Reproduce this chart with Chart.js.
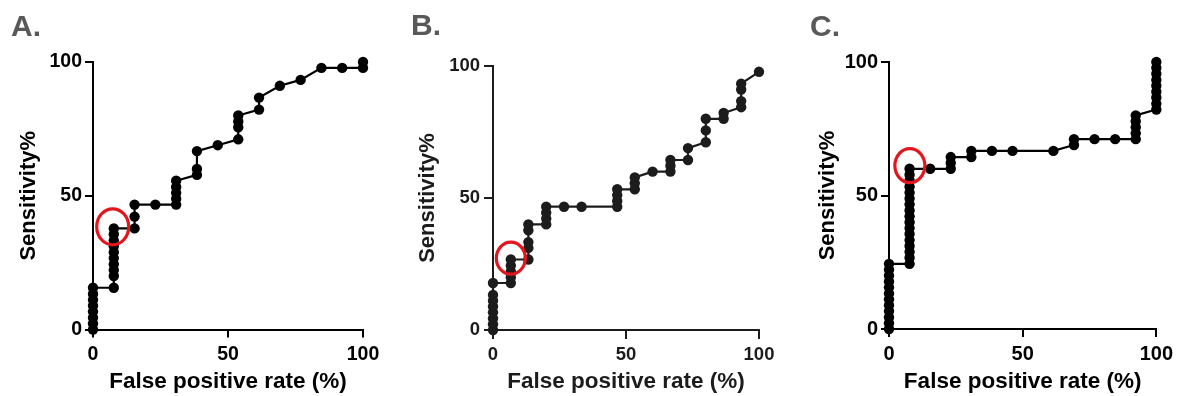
<!DOCTYPE html>
<html>
<head>
<meta charset="utf-8">
<script src="https://cdn.jsdelivr.net/npm/chart.js@4.4.1/dist/chart.umd.min.js"></script>
<style>
  body { margin: 0; background: #fff; width: 1178px; height: 396px; position: relative; overflow: hidden; font-family: "Liberation Sans", Arial, sans-serif; }
  canvas { position: absolute; top: 0; }
  .tag { position: absolute; font-weight: bold; font-size: 30px; line-height: 1; color: #595959; }
</style>
</head>
<body>
<canvas id="chartA" width="390" height="396" style="left:0"></canvas>
<canvas id="chartB" width="400" height="396" style="left:390px"></canvas>
<canvas id="chartC" width="388" height="396" style="left:790px"></canvas>
<div class="tag" style="left:11px;top:11px">A.</div>
<div class="tag" style="left:411px;top:10px">B.</div>
<div class="tag" style="left:810px;top:11px">C.</div>

<script>
// panel A: false positive rate vs sensitivity (%)
const fprA = [0, 0, 0, 0, 0, 0, 0, 0,
  7.7, 7.7, 7.7, 7.7, 7.7, 7.7, 7.7, 7.7, 7.7, 7.7,
  15.4, 15.4, 15.4, 23.1,
  30.8, 30.8, 30.8, 30.8, 30.8,
  38.5, 38.5, 38.5, 46.2,
  53.8, 53.8, 53.8, 53.8,
  61.5, 61.5, 69.2, 76.9, 84.6, 92.3, 100, 100];
const sensA = [0, 2.2, 4.4, 6.7, 8.9, 11.1, 13.3, 15.6,
  15.6, 20.0, 22.2, 24.4, 26.7, 28.9, 31.1, 33.3, 35.6, 37.8,
  37.8, 42.2, 46.7, 46.7,
  46.7, 48.9, 51.1, 53.3, 55.6,
  57.8, 60.0, 66.7, 68.9,
  71.1, 75.6, 77.8, 80.0,
  82.2, 86.7, 91.1, 93.3, 97.8, 97.8, 97.8, 100];

// panel B
const fprB = [0, 0, 0, 0, 0, 0, 0, 0,
  6.7, 6.7, 6.7, 6.7, 6.7,
  13.3, 13.3, 13.3, 13.3, 13.3,
  20, 20, 20, 20, 26.7, 33.3,
  46.7, 46.7, 46.7, 46.7,
  53.3, 53.3, 53.3, 60,
  66.7, 66.7, 66.7, 73.3, 73.3,
  80, 80, 80, 86.7, 86.7,
  93.3, 93.3, 93.3, 93.3, 100];
const sensB = [0, 2.2, 4.4, 6.7, 8.9, 11.1, 13.3, 17.8,
  17.8, 20.0, 22.2, 24.4, 26.7,
  26.7, 31.1, 33.3, 37.8, 40.0,
  40.0, 42.2, 44.4, 46.7, 46.7, 46.7,
  46.7, 48.9, 51.1, 53.3,
  53.3, 55.6, 57.8, 60.0,
  60.0, 62.2, 64.4, 64.4, 68.9,
  71.1, 75.6, 80.0, 80.0, 82.2,
  84.4, 86.7, 91.1, 93.3, 97.8];

// panel C
const fprC = [0, 0, 0, 0, 0, 0, 0, 0, 0, 0, 0, 0,
  7.7, 7.7, 7.7, 7.7, 7.7, 7.7, 7.7, 7.7, 7.7, 7.7, 7.7, 7.7, 7.7, 7.7, 7.7, 7.7, 7.7,
  15.4, 23.1, 23.1, 23.1, 30.8, 30.8,
  38.5, 46.2, 61.5, 69.2, 69.2, 76.9, 84.6,
  92.3, 92.3, 92.3, 92.3, 92.3,
  100, 100, 100, 100, 100, 100, 100, 100, 100];
const sensC = [0, 2.2, 4.4, 6.7, 8.9, 11.1, 13.3, 15.6, 17.8, 20.0, 22.2, 24.4,
  24.4, 26.7, 28.9, 31.1, 33.3, 35.6, 37.8, 40.0, 42.2, 44.4, 46.7, 48.9, 51.1, 53.3, 55.6, 57.8, 60.0,
  60.0, 60.0, 62.2, 64.4, 64.4, 66.7,
  66.7, 66.7, 66.7, 68.9, 71.1, 71.1, 71.1,
  71.1, 73.3, 75.6, 77.8, 80.0,
  82.2, 84.4, 86.7, 88.9, 91.1, 93.3, 95.6, 97.8, 100];

// chosen cut-off points (circled in red)
const markA = [7.3, 38.4];
const markB = [6.7, 27.2];
const markC = [7.8, 61.2];

const axisTicks = [0, 50, 100];

const ringPlugin = {
  id: 'ring',
  afterDatasetsDraw(chart, args, opts) {
    const x = chart.scales.x.getPixelForValue(opts.at[0]);
    const y = chart.scales.y.getPixelForValue(opts.at[1]);
    const ctx = chart.ctx;
    ctx.save();
    ctx.strokeStyle = '#e3161d';
    ctx.lineWidth = 3.2;
    ctx.beginPath();
    ctx.ellipse(x, y, opts.rx, opts.ry, 0, 0, Math.PI * 2);
    ctx.stroke();
    ctx.restore();
  }
};

function makePanel(id, xs, ys, mark, cfg) {
  const pts = xs.map((x, i) => ({ x: x, y: ys[i] }));
  const ink = cfg.ink;

  function axis(extra) {
    return Object.assign({
      type: 'linear',
      min: 0,
      max: 100,
      afterBuildTicks: s => { s.ticks = axisTicks.map(v => ({ value: v })); },
      border: { display: true, color: ink, width: 2 },
      grid: { drawOnChartArea: false, drawTicks: true, tickLength: cfg.tick, color: ink, lineWidth: 2 }
    }, extra);
  }

  new Chart(document.getElementById(id), {
    type: 'scatter',
    data: {
      datasets: [{
        data: pts,
        showLine: true,
        borderColor: ink,
        borderWidth: 2.2,
        backgroundColor: ink,
        pointBackgroundColor: ink,
        pointBorderWidth: 0,
        pointRadius: 5.2,
        pointHoverRadius: 5.2,
        clip: false
      }]
    },
    plugins: [ringPlugin],
    options: {
      responsive: false,
      animation: false,
      events: [],
      layout: { padding: { left: cfg.padLeft, top: cfg.top, right: cfg.padRight, bottom: 0 } },
      plugins: {
        legend: { display: false },
        tooltip: { enabled: false },
        ring: { at: mark, rx: cfg.rx, ry: cfg.ry }
      },
      scales: {
        x: axis({
          afterFit: s => { s.height = cfg.xHeight; },
          ticks: { color: ink, padding: 5, font: { family: 'Liberation Sans', weight: 'bold', size: cfg.tickSize } },
          title: { display: true, text: 'False positive rate (%)', color: ink, padding: { top: 0, bottom: 1 },
                   font: { family: 'Liberation Sans', weight: 'bold', size: 22.5 } }
        }),
        y: axis({
          afterFit: s => { s.width = cfg.yWidth; },
          ticks: { color: ink, padding: cfg.tickPad, font: { family: 'Liberation Sans', weight: 'bold', size: cfg.tickSize } },
          title: { display: true, text: 'Sensitivity%', color: ink, padding: 0,
                   font: { family: 'Liberation Sans', weight: 'bold', size: 22 } }
        })
      }
    }
  });
}

makePanel('chartA', fprA, sensA, markA, {
  ink: '#000', padLeft: 16, yWidth: 77, padRight: 27, top: 62, xHeight: 66.5,
  tick: 8, tickPad: 3, tickSize: 19.5, rx: 16, ry: 18
});
makePanel('chartB', fprB, sensB, markB, {
  ink: '#1c1c1c', padLeft: 25, yWidth: 78, padRight: 31, top: 66, xHeight: 66,
  tick: 9, tickPad: 4, tickSize: 18.5, rx: 14.5, ry: 16
});
makePanel('chartC', fprC, sensC, markC, {
  ink: '#000', padLeft: 25, yWidth: 74, padRight: 20, top: 62, xHeight: 67,
  tick: 8, tickPad: 3, tickSize: 20, rx: 15, ry: 17
});
</script>
</body>
</html>
